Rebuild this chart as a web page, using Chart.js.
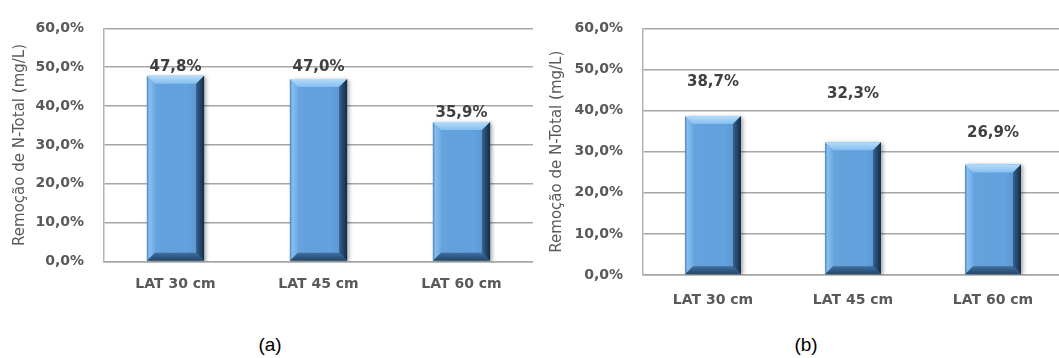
<!DOCTYPE html>
<html>
<head>
<meta charset="utf-8">
<script src="https://cdn.jsdelivr.net/npm/chart.js@4/dist/chart.umd.min.js"></script>
<style>
  html, body { margin: 0; padding: 0; background: #fff; width: 1059px; height: 358px; overflow: hidden; position: relative; }
  canvas { position: absolute; }
  #chartA { left: 0; top: 0; }
  #chartB { left: 537px; top: 0; }
  .cap { position: absolute; font-family: "Liberation Sans", Arial, sans-serif; font-size: 19px; color: #000; transform: translate(-50%, -50%); }
</style>
</head>
<body>
<canvas id="chartA" width="533" height="310"></canvas>
<canvas id="chartB" width="526" height="320"></canvas>
<div class="cap" style="left:270px; top:345px;">(a)</div>
<div class="cap" style="left:806px; top:345px;">(b)</div>
<script>
// Categories and removal percentages for the two lateral spacings
const categories = ['LAT 30 cm', 'LAT 45 cm', 'LAT 60 cm'];
const removalA = [47.8, 47.0, 35.9];
const removalB = [38.7, 32.3, 26.9];
const yTicks = [0, 10, 20, 30, 40, 50, 60];
const yTitle = 'Remoção de N-Total (mg/L)';

const pct = v => v.toFixed(1).replace('.', ',') + '%';
const grey = '#595959';

// Bevelled bar look plus value labels above each bar
const bevelPlugin = {
  id: 'bevel',
  beforeDatasetsDraw(chart) {
    const ctx = chart.ctx;
    ctx.save();
    ctx.shadowColor = 'rgba(0,0,0,0.35)';
    ctx.shadowBlur = 4;
    ctx.shadowOffsetX = 2;
    ctx.shadowOffsetY = 1;
  },
  afterDatasetsDraw(chart) {
    const ctx = chart.ctx;
    ctx.restore();
    const meta = chart.getDatasetMeta(0);
    const lifts = chart.options.plugins.bevel.lifts;
    meta.data.forEach((bar, i) => {
      const p = bar.getProps(['x', 'y', 'base', 'width'], true);
      const x0 = p.x - p.width / 2, x1 = p.x + p.width / 2;
      const t = p.y, b = p.base, d = 8;
      const poly = (pts, fill) => {
        ctx.beginPath();
        ctx.moveTo(pts[0][0], pts[0][1]);
        for (let k = 1; k < pts.length; k++) ctx.lineTo(pts[k][0], pts[k][1]);
        ctx.closePath();
        ctx.fillStyle = fill;
        ctx.fill();
      };
      // face shading
      const face = ctx.createLinearGradient(x0, 0, x1, 0);
      face.addColorStop(0, 'rgba(255,255,255,0.05)');
      face.addColorStop(0.7, 'rgba(0,0,0,0)');
      face.addColorStop(1, 'rgba(0,0,0,0.10)');
      ctx.fillStyle = face;
      ctx.fillRect(x0, t, x1 - x0, b - t);
      // left bevel
      const lg = ctx.createLinearGradient(x0, 0, x0 + d, 0);
      lg.addColorStop(0, '#4F86BD');
      lg.addColorStop(0.3, '#86BEEE');
      lg.addColorStop(1, '#6CABE4');
      poly([[x0, t], [x0 + d, t + d], [x0 + d, b - d], [x0, b]], lg);
      // top bevel
      const tg = ctx.createLinearGradient(0, t, 0, t + d);
      tg.addColorStop(0, '#B8DCF9');
      tg.addColorStop(1, '#86BEEE');
      poly([[x0, t], [x1, t], [x1 - d, t + d], [x0 + d, t + d]], tg);
      // bottom bevel
      const bg = ctx.createLinearGradient(0, b - d, 0, b);
      bg.addColorStop(0, '#3E6F9F');
      bg.addColorStop(1, '#24466C');
      poly([[x0, b], [x0 + d, b - d], [x1 - d, b - d], [x1, b]], bg);
      // right bevel
      const rg = ctx.createLinearGradient(x1 - d, 0, x1, 0);
      rg.addColorStop(0, '#35628F');
      rg.addColorStop(1, '#132B46');
      poly([[x1, t], [x1 - d, t + d], [x1 - d, b - d], [x1, b]], rg);
      // value label
      const v = chart.data.datasets[0].data[i];
      ctx.fillStyle = '#404040';
      ctx.font = 'bold 15px "DejaVu Sans"';
      ctx.textAlign = 'center';
      ctx.textBaseline = 'middle';
      ctx.fillText(pct(v), p.x, t - lifts[i]);
    });
  }
};

function makeChart(id, values, opts) {
  return new Chart(document.getElementById(id), {
    type: 'bar',
    data: {
      labels: categories,
      datasets: [{
        data: values,
        backgroundColor: '#62A2DF',
        borderWidth: 0,
        barPercentage: 0.4,
        categoryPercentage: 1.0
      }]
    },
    plugins: [bevelPlugin],
    options: {
      responsive: false,
      animation: false,
      events: [],
      layout: { padding: { top: opts.top, left: 0, right: 0, bottom: 0 } },
      plugins: {
        legend: { display: false },
        tooltip: { enabled: false },
        bevel: { lifts: opts.lifts }
      },
      scales: {
        x: {
          grid: { display: false, drawTicks: false },
          border: { display: true, color: '#A6A6A6', width: 1.5 },
          ticks: { color: grey, font: { family: 'DejaVu Sans', size: 14, weight: 'bold' }, padding: opts.xPad, maxRotation: 0 },
          afterFit: s => { s.height = opts.xHeight; }
        },
        y: {
          min: 0, max: 60,
          afterBuildTicks: s => { s.ticks = yTicks.map(v => ({ value: v })); },
          grid: { color: '#A6A6A6', lineWidth: 1.5, drawTicks: false },
          border: { display: true, color: '#B4B4B4', width: 1.5 },
          ticks: { color: grey, font: { family: 'DejaVu Sans', size: 14, weight: 'bold' }, padding: 20, callback: v => pct(v) },
          title: { display: true, text: yTitle, color: grey, font: { family: 'DejaVu Sans', size: 15 }, padding: { top: 11, bottom: 0 } },
          afterFit: s => { s.width = opts.yWidth; }
        }
      }
    }
  });
}

makeChart('chartA', removalA, { top: 21, xHeight: 48.5, xPad: 14, yWidth: 104, lifts: [9, 12, 9] });
makeChart('chartB', removalB, { top: 23, xHeight: 45, xPad: 17, yWidth: 106, lifts: [34, 48, 31] });
</script>
</body>
</html>
